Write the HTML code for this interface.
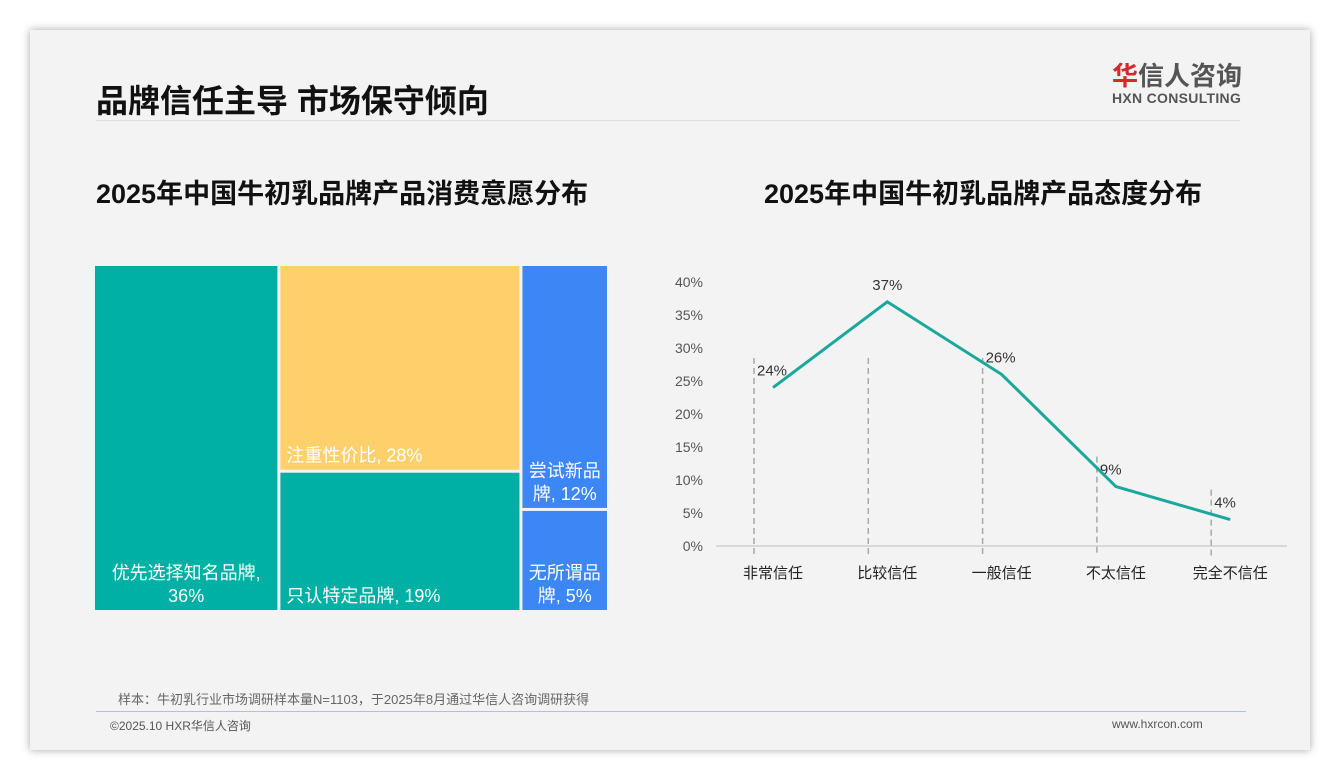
<!DOCTYPE html>
<html><head><meta charset="utf-8"><style>
body{margin:0;width:1340px;height:780px;background:#fff;font-family:"Liberation Sans","Noto Sans CJK SC",sans-serif;position:relative;overflow:hidden}
#card{position:absolute;left:30px;top:30px;width:1280px;height:720px;background:#f3f3f3;box-shadow:0 0 8px rgba(0,0,0,0.35)}
.abs{position:absolute}
</style></head><body>
<div id="card"></div>
<div class="abs" style="left:96px;top:76px;font-size:32px;font-weight:bold;color:#111">品牌信任主导 市场保守倾向</div>
<div class="abs" style="left:96px;top:120px;width:1144px;height:1px;background:#ddd"></div>
<div class="abs" style="left:1112px;top:62px;font-size:26px;font-weight:bold;color:#555;line-height:28px"><span style="color:#d42a2a">华</span>信人咨询<div style="font-size:14px;line-height:16px;letter-spacing:0.3px">HXN CONSULTING</div></div>
<div class="abs" style="left:96px;top:172px;font-size:27px;font-weight:bold;color:#111">2025年中国牛初乳品牌产品消费意愿分布</div>
<div class="abs" style="left:764px;top:172px;font-size:27px;font-weight:bold;color:#111">2025年中国牛初乳品牌产品态度分布</div>
<svg class="abs" style="left:0;top:0" width="1340" height="780" id="svg"></svg>
<div class="abs" style="left:118px;top:689px;font-size:13px;color:#666">样本：牛初乳行业市场调研样本量N=1103，于2025年8月通过华信人咨询调研获得</div>
<div class="abs" style="left:96px;top:711px;width:1150px;height:1px;background:#aac4dd"></div>
<div class="abs" style="left:110px;top:717px;font-size:12px;color:#555">©2025.10 HXR华信人咨询</div>
<div class="abs" style="left:1112px;top:717px;font-size:12px;color:#555">www.hxrcon.com</div>
<script>
const NS="http://www.w3.org/2000/svg";const svg=document.getElementById('svg');
function mk(t,a,p){const e=document.createElementNS(NS,t);for(const k in a)e.setAttribute(k,a[k]);(p||svg).appendChild(e);return e;}
// treemap data
const tmColumns=[["优先选择知名品牌, 36%"],["注重性价比, 28%","只认特定品牌, 19%"],["尝试新品牌, 12%","无所谓品牌, 5%"]];
const tmValues=[[36],[28,19],[12,5]];
const tmColors=[["#00b0a4"],["#fdd06b","#00b0a4"],["#3c86f5","#3c86f5"]];
const TX=95,TY=266,TW=515,TH=347;
const total=tmValues.flat().reduce((a,b)=>a+b,0);
let cx=TX;
tmValues.forEach((col,ci)=>{
  const cs=col.reduce((a,b)=>a+b,0);const cw=TW*cs/total;let cy=TY;
  col.forEach((v,ri)=>{
    const h=TH*v/cs;
    const r=mk('rect',{x:cx,y:cy,width:cw-3,height:h-3,fill:tmColors[ci][ri]});
    
    
    const lab=tmColumns[ci][ri];
    const narrow=cw<120, first=ci===0;
    let lines=narrow?[lab.slice(0,4),lab.slice(4)]:(first?[lab.split(' ')[0],lab.split(' ')[1]]:[lab]);
    const bottom=cy+h-3;
    lines.forEach((ln,i)=>{
      const anchor=(narrow||first)?'middle':'start';
      const x=anchor==='middle'?cx+(cw-3)/2:cx+6;
      const y=bottom-8-(lines.length-1-i)*23;
      const t=mk('text',{x:x,y:y,'text-anchor':anchor,'font-size':18,fill:'#fff'});t.textContent=ln;
      
      
    });
    cy+=h;
  });
  cx+=cw;
});
// line chart data
const categories=["非常信任","比较信任","一般信任","不太信任","完全不信任"];
const values=[24,37,26,9,4];
const yTicks=[0,5,10,15,20,25,30,35,40];
const X0=773,DX=114.3,Y0=546,PY=6.6;
const xs=i=>X0+i*DX, ys=v=>Y0-v*PY;
mk('line',{x1:716,y1:Y0,x2:1287,y2:Y0,stroke:'#d0d0d0','stroke-width':1.5});
yTicks.forEach(v=>{const t=mk('text',{x:703,y:ys(v)+5,'text-anchor':'end','font-size':14,fill:'#555'});t.textContent=v+'%';

});
values.forEach((v,i)=>{
  const top=Math.max(ys(v)-30,358);
  const l=mk('line',{x1:xs(i)-19,y1:top,x2:xs(i)-19,y2:Y0+10,stroke:'#a8a8a8','stroke-width':1.5,'stroke-dasharray':'6,4'});
  
  
  const peak=i==1;
  const t=mk('text',{x:peak?xs(i):xs(i)-16,y:ys(v)-12,'text-anchor':peak?'middle':'start','font-size':15,fill:'#333'});t.textContent=v+'%';
  
  
  const c=mk('text',{x:xs(i),y:578,'text-anchor':'middle','font-size':15,fill:'#222'});c.textContent=categories[i];
  
  
});
const p=mk('polyline',{points:values.map((v,i)=>xs(i)+','+ys(v)).join(' '),fill:'none',stroke:'#1aa89c','stroke-width':3});


</script>
</body></html>
